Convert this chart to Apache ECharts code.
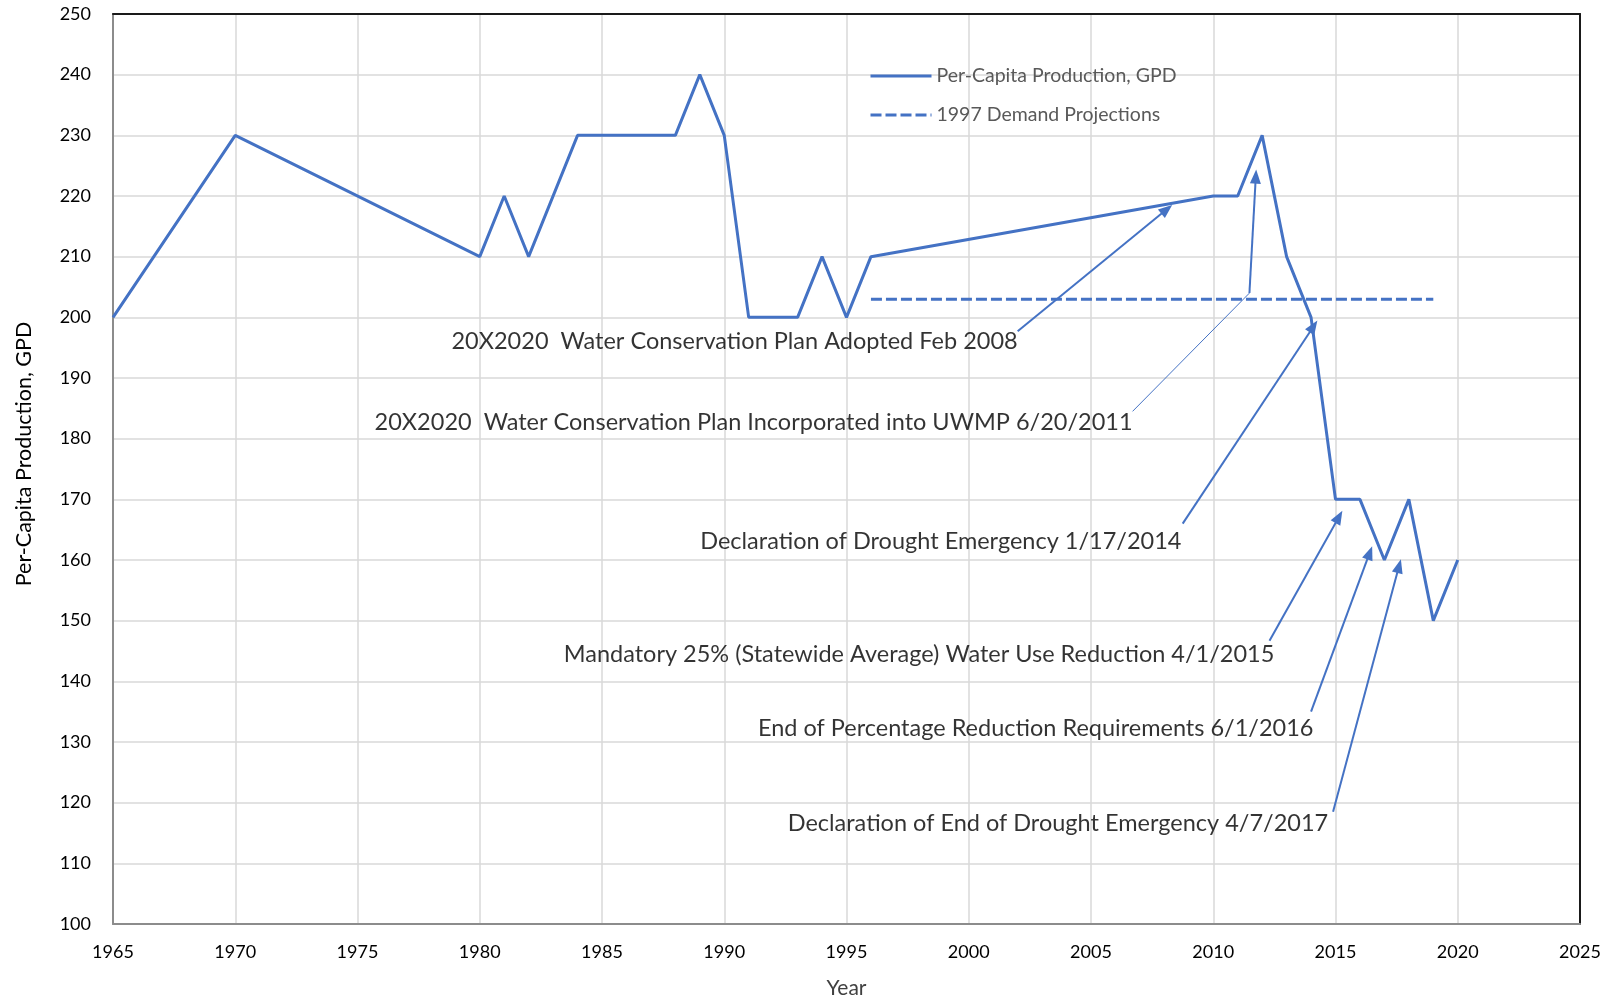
<!DOCTYPE html>
<html>
<head>
<meta charset="utf-8">
<script src="https://cdn.jsdelivr.net/npm/echarts@6/dist/echarts.min.js"></script>
<style>
  html, body { margin: 0; padding: 0; background: #fff; }
  #chart { width: 1614px; height: 999px; }
</style>
</head>
<body>
<div id="chart"></div>
<script>
// per-capita production (GPD) by year
const years = [1965, 1970, 1980, 1981, 1982, 1984, 1988, 1989, 1990, 1991, 1993, 1994, 1995, 1996,
  2010, 2011, 2012, 2013, 2014, 2015, 2016, 2017, 2018, 2019, 2020]
const perCapita = [200, 230, 210, 220, 210, 230, 230, 240, 230, 200, 200, 210, 200, 210,
  220, 220, 230, 210, 200, 170, 170, 160, 170, 150, 160]

// 1997 demand projection
const projYears = [1996, 2019]
const projection = [203, 203]

// annotations: text, where the text ends (right edge), arrow start, arrow tip
const noteText = [
  '20X2020  Water Conservation Plan Adopted Feb 2008',
  '20X2020  Water Conservation Plan Incorporated into UWMP 6/20/2011',
  'Declaration of Drought Emergency 1/17/2014',
  'Mandatory 25% (Statewide Average) Water Use Reduction 4/1/2015',
  'End of Percentage Reduction Requirements 6/1/2016',
  'Declaration of End of Drought Emergency 4/7/2017'
]
const noteAt = [[2002.0, 196.0], [2006.7, 182.6], [2008.7, 163.1], [2012.5, 144.4], [2014.1, 132.2], [2014.7, 116.6]]
const arrowFrom = [[2002.0, 197.7], [2011.48, 204.0], [2008.75, 166.0], [2012.3, 146.7], [2014.0, 135.0], [2014.9, 118.5]]
const arrowTo = [[2008.1, 217.8], [2011.74, 223.2], [2014.1, 198.5], [2015.14, 167.1], [2016.4, 161.2], [2017.6, 159.0]]
// the 2011 note has a thin leader before its arrow
const leaderFrom = [2006.7, 184.5]
const leaderTo = [2011.48, 204.0]

const BLUE = '#4472C4'
const FONT = 'Lato'

const chart = echarts.init(document.getElementById('chart'))

const axisBase = {
  type: 'value',
  axisTick: { show: false }
}

const option = {
  animation: false,
  textStyle: { fontFamily: FONT },
  grid: { left: 113, right: 34, top: 14, bottom: 75, outerBoundsMode: 'none' },
  legend: {
    orient: 'vertical',
    left: 864,
    top: 61,
    itemWidth: 61,
    itemHeight: 14,
    itemGap: 19,
    itemStyle: { opacity: 0 },
    lineStyle: { width: 3 },
    textStyle: { color: '#595959', fontSize: 19.5, fontFamily: FONT },
    data: ['Per-Capita Production, GPD', '1997 Demand Projections']
  },
  xAxis: [
    {
      ...axisBase,
      min: 1965, max: 2025, interval: 5,
      name: 'Year', nameLocation: 'middle', nameGap: 54,
      nameTextStyle: { color: '#404040', fontSize: 21 },
      axisLine: { lineStyle: { color: '#8c8c8c', width: 2 } },
      axisLabel: { color: '#000', fontSize: 18, margin: 19, formatter: v => String(v) },
      splitLine: { show: true, lineStyle: { color: '#d9d9d9', width: 1.5 } }
    },
    {
      ...axisBase,
      position: 'top',
      min: 1965, max: 2025,
      axisLine: { show: true, lineStyle: { color: '#1a1a1a', width: 2 } },
      axisLabel: { show: false },
      splitLine: { show: false }
    }
  ],
  yAxis: [
    {
      ...axisBase,
      min: 100, max: 250, interval: 10,
      name: 'Per-Capita Production, GPD', nameLocation: 'middle', nameGap: 78,
      nameTextStyle: { color: '#000', fontSize: 21.5, padding: [0, 0, 0, 30] },
      axisLine: { show: true, lineStyle: { color: '#8c8c8c', width: 2 } },
      axisLabel: { color: '#000', fontSize: 18, margin: 22 },
      splitLine: { show: true, lineStyle: { color: '#d9d9d9', width: 1.5 } }
    },
    {
      ...axisBase,
      position: 'right',
      min: 100, max: 250,
      axisLine: { show: true, lineStyle: { color: '#1a1a1a', width: 2 } },
      axisLabel: { show: false },
      splitLine: { show: false }
    }
  ],
  series: [
    {
      name: 'Per-Capita Production, GPD',
      type: 'line',
      symbol: 'none',
      color: BLUE,
      lineStyle: { color: BLUE, width: 3 },
      data: years.map((y, i) => [y, perCapita[i]]),
      z: 3
    },
    {
      name: '1997 Demand Projections',
      type: 'line',
      symbol: 'none',
      color: BLUE,
      lineStyle: { color: BLUE, width: 3, type: [11, 4] },
      data: projYears.map((y, i) => [y, projection[i]]),
      z: 3
    },
    {
      // arrows for the notes
      name: 'arrows',
      type: 'line',
      data: [],
      silent: true,
      markLine: {
        silent: true,
        symbol: ['none', 'triangle'],
        symbolSize: [11, 14],
        label: { show: false },
        emphasis: { disabled: true },
        lineStyle: { color: BLUE, width: 2, type: 'solid' },
        data: arrowFrom.map((p, i) => [{ coord: p }, { coord: arrowTo[i] }]).concat([
          [
            { coord: leaderFrom, symbol: 'none', lineStyle: { width: 1 } },
            { coord: leaderTo, symbol: 'none' }
          ]
        ])
      },
      z: 4
    },
    {
      // note text
      name: 'notes',
      type: 'scatter',
      symbolSize: 0,
      silent: true,
      data: noteAt.map((p, i) => ({ name: noteText[i], value: p })),
      label: {
        show: true,
        position: 'left',
        distance: 0,
        formatter: '{b}',
        color: '#000',
        fontSize: 23.5,
        fontFamily: FONT
      },
      z: 5
    }
  ]
}

chart.setOption(option)
</script>
</body>
</html>
